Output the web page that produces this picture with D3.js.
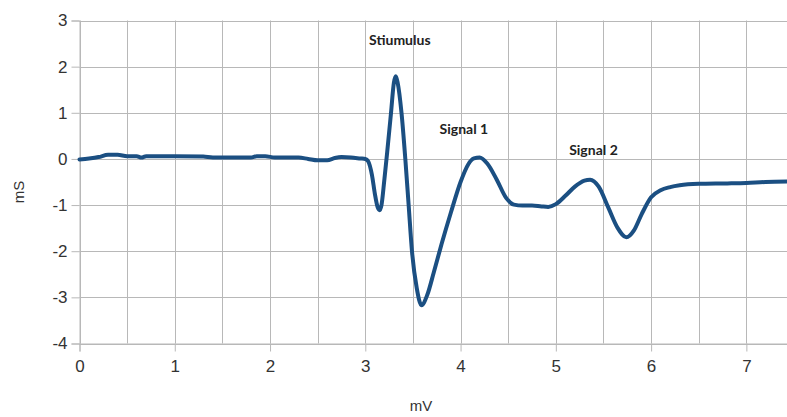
<!DOCTYPE html>
<html>
<head>
<meta charset="utf-8">
<script src="https://cdn.jsdelivr.net/npm/d3@7"></script>
<style>
  html, body { margin: 0; padding: 0; background: #fff; }
  svg { display: block; }
  .tick text { font-family: "Liberation Sans", Arial, sans-serif; font-size: 17px; fill: #333; }
</style>
</head>
<body>
<svg id="chart" width="787" height="417"></svg>
<script>
// Recorded trace: voltage (mV) on x, conductance (mS) on y
const xValues = [
  0.00, 0.10, 0.20, 0.30, 0.40, 0.50, 0.60, 0.65, 0.70, 1.00, 1.30, 1.40, 1.60, 1.80, 1.86, 1.95,
  2.05, 2.30, 2.40, 2.50, 2.60, 2.68, 2.75, 2.85, 2.95, 3.00,
  3.03, 3.07, 3.10, 3.13, 3.15, 3.17, 3.20, 3.23, 3.27, 3.30, 3.32, 3.34, 3.38, 3.42, 3.455, 3.49,
  3.54, 3.59, 3.65, 3.72, 3.80, 3.90, 4.00, 4.08, 4.14, 4.20, 4.28, 4.38, 4.48, 4.56, 4.65, 4.75,
  4.85, 4.92, 5.00, 5.10, 5.20, 5.30, 5.36, 5.45, 5.55, 5.65, 5.74, 5.82, 5.90, 6.00, 6.10, 6.20,
  6.30, 6.50, 6.80, 7.00, 7.20, 7.50
];
const yValues = [
  -0.01, 0.01, 0.04, 0.09, 0.09, 0.06, 0.06, 0.03, 0.06, 0.06, 0.05, 0.03, 0.03, 0.03, 0.06, 0.06,
  0.03, 0.03, 0.00, -0.03, -0.03, 0.02, 0.04, 0.03, 0.01, 0.00,
  -0.05, -0.35, -0.75, -1.05, -1.11, -1.00, -0.45, 0.15, 1.00, 1.65, 1.79, 1.65, 1.00, 0.00, -1.00, -2.00,
  -2.80, -3.17, -2.95, -2.45, -1.85, -1.15, -0.50, -0.12, 0.01, 0.03, -0.10, -0.45, -0.85, -0.99, -1.01, -1.01,
  -1.03, -1.04, -0.98, -0.80, -0.60, -0.47, -0.45, -0.60, -1.05, -1.50, -1.70, -1.55, -1.20, -0.83, -0.68, -0.61,
  -0.57, -0.54, -0.53, -0.52, -0.50, -0.49
];

const xTicks = [0, 1, 2, 3, 4, 5, 6, 7];
const xGrid = [0, 0.5, 1, 1.5, 2, 2.5, 3, 3.5, 4, 4.5, 5, 5.5, 6, 6.5, 7, 7.5];
const yTicks = [-4, -3, -2, -1, 0, 1, 2, 3];

const xTitle = "mV";
const yTitle = "mS";

// Text notes placed at data coordinates
const noteText = ["Stiumulus", "Signal 1", "Signal 2"];
const noteX = [3.04, 3.78, 5.14];
const noteY = [2.46, 0.53, 0.08];

const svg = d3.select("#chart");
const plot = { left: 79.5, top: 20.5, bottom: 343.5, right: 794 };

const x = d3.scaleLinear().domain([0, 7.5]).range([plot.left, plot.right]);
const y = d3.scaleLinear().domain([-4, 3]).range([plot.bottom, plot.top]);

const gridColor = "#b8b8b8";

// Grid
svg.append("g").selectAll("line.v").data(xGrid).join("line")
  .attr("x1", d => Math.round(x(d)) + 0.5).attr("x2", d => Math.round(x(d)) + 0.5)
  .attr("y1", plot.top).attr("y2", plot.bottom)
  .attr("stroke", gridColor).attr("stroke-width", 1);
svg.append("g").selectAll("line.h").data(yTicks).join("line")
  .attr("x1", plot.left).attr("x2", plot.right)
  .attr("y1", d => Math.round(y(d)) + 0.5).attr("y2", d => Math.round(y(d)) + 0.5)
  .attr("stroke", gridColor).attr("stroke-width", 1);

// Axes
const xAxis = svg.append("g")
  .attr("transform", `translate(0,${plot.bottom})`)
  .call(d3.axisBottom(x).tickValues(xTicks).tickFormat(d3.format("d")).tickSize(8).tickPadding(8));
const yAxis = svg.append("g")
  .attr("transform", `translate(${plot.left},0)`)
  .call(d3.axisLeft(y).tickValues(yTicks).tickFormat(d3.format("d")).tickSize(8).tickPadding(4));
[xAxis, yAxis].forEach(a => {
  a.select(".domain").attr("stroke", gridColor);
  a.selectAll(".tick line").attr("stroke", gridColor);
});
yAxis.selectAll(".tick text").text(d => d < 0 ? "-" + Math.abs(d) : d);

// Axis titles
svg.append("text")
  .attr("x", 421).attr("y", 411)
  .attr("text-anchor", "middle")
  .style("font-family", "'Liberation Sans', Arial, sans-serif")
  .style("font-size", "15px").style("fill", "#333")
  .text(xTitle);
svg.append("text")
  .attr("transform", "translate(24,192) rotate(-90)")
  .attr("text-anchor", "middle")
  .style("font-family", "'Liberation Sans', Arial, sans-serif")
  .style("font-size", "15px").style("fill", "#333")
  .text(yTitle);

// Trace
const points = xValues.map((v, i) => [v, yValues[i]]);
svg.append("path")
  .datum(points)
  .attr("fill", "none")
  .attr("stroke", "#1b4f82")
  .attr("stroke-width", 4)
  .attr("stroke-linejoin", "round")
  .attr("stroke-linecap", "round")
  .attr("d", d3.line().x(d => x(d[0])).y(d => y(d[1])).curve(d3.curveMonotoneX));

// Notes
svg.append("g").selectAll("text").data(noteText).join("text")
  .attr("x", (d, i) => x(noteX[i]))
  .attr("y", (d, i) => y(noteY[i]))
  .style("font-family", "Lato, 'Open Sans', sans-serif")
  .style("font-weight", "bold")
  .style("font-size", "14px")
  .style("fill", "#222")
  .text(d => d);
</script>
</body>
</html>
